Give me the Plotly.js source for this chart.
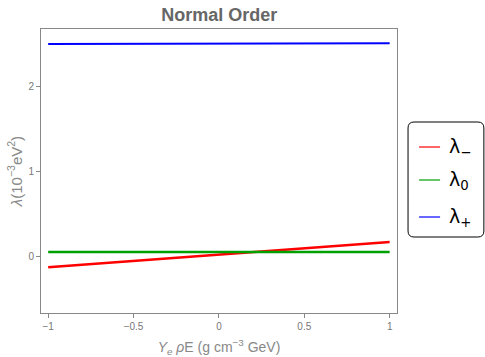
<!DOCTYPE html>
<html>
<head>
<meta charset="utf-8">
<script src="https://cdn.plot.ly/plotly-3.0.1.min.js"></script>
<style>html,body{margin:0;padding:0;background:#fff;}#chart{width:485px;height:357px;}</style>
</head>
<body>
<div id="chart"></div>
<script>
// Data
const xValues = [-1, -0.5, 0, 0.5, 1];
const lambdaMinus = [-0.124, -0.05, 0.024, 0.098, 0.172];
const lambdaZero = [0.055, 0.055, 0.055, 0.055, 0.055];
const lambdaPlus = [2.494, 2.496, 2.498, 2.500, 2.503];
const seriesNames = ['λ<sub>−</sub>', 'λ<sub>0</sub>', 'λ<sub>+</sub>'];
const seriesColors = ['#ff0000', '#00a000', '#0000ff'];
const xTicks = [-1, -0.5, 0, 0.5, 1];
const xTickLabels = ['−1', '−0.5', '0', '0.5', '1'];
const yTicks = [0, 1, 2];
const yTickLabels = ['0', '1', '2'];

const traces = [
  {x: xValues, y: lambdaMinus, name: seriesNames[0], mode: 'lines', line: {color: seriesColors[0], width: 2.5}},
  {x: xValues, y: lambdaZero, name: seriesNames[1], mode: 'lines', line: {color: seriesColors[1], width: 2.5}},
  {x: xValues, y: lambdaPlus, name: seriesNames[2], mode: 'lines', line: {color: seriesColors[2], width: 2}}
];

const axisCommon = {
  showgrid: false, zeroline: false, showline: true, mirror: true,
  linecolor: '#888', linewidth: 1,
  ticks: 'outside', ticklen: 4, tickcolor: '#888', tickwidth: 1,
  tickfont: {family: 'Liberation Sans, Arial, sans-serif', size: 10, color: '#777'}
};

// manual legend (paper coordinates)
const legendY = [0.5845, 0.4683, 0.338];
const shapes = [{
  type: 'path', xref: 'paper', yref: 'paper', layer: 'above',
  path: 'M 1.031 0.6515 L 1.031 0.2886 Q 1.031 0.2676 1.048 0.2676 L 1.227 0.2676 Q 1.244 0.2676 1.244 0.2886 L 1.244 0.6515 Q 1.244 0.6725 1.227 0.6725 L 1.048 0.6725 Q 1.031 0.6725 1.031 0.6515 Z',
  line: {color: '#000', width: 1}, fillcolor: 'rgba(0,0,0,0)'
}];
const annotations = [];
seriesNames.forEach((n, i) => {
  shapes.push({type: 'line', xref: 'paper', yref: 'paper', x0: 1.062, x1: 1.121, y0: legendY[i], y1: legendY[i],
               line: {color: seriesColors[i], width: 1.2}});
  annotations.push({xref: 'paper', yref: 'paper', x: 1.141, y: legendY[i], xanchor: 'left', yanchor: 'middle',
                    text: n, showarrow: false,
                    font: {family: 'DejaVu Sans, sans-serif', size: 19, color: '#000'}});
});

const layout = {
  width: 485, height: 357,
  margin: {l: 41, r: 88, t: 29, b: 44},
  paper_bgcolor: '#fff', plot_bgcolor: '#fff',
  title: {text: '<b>Normal Order</b>', x: 0.452, xanchor: 'center', y: 0.958, yanchor: 'middle',
          font: {family: 'Liberation Sans, Arial, sans-serif', size: 18, color: '#666'}},
  xaxis: Object.assign({}, axisCommon, {
    range: [-1.042, 1.043], tickvals: xTicks, ticktext: xTickLabels,
    title: {text: '<i>Y</i><sub><i>e</i></sub> <i>ρ</i>E (g cm<sup>−3</sup> GeV)', standoff: 12,
            font: {family: 'Liberation Sans, Arial, sans-serif', size: 14, color: '#888'}}
  }),
  yaxis: Object.assign({}, axisCommon, {
    range: [-0.662, 2.67], tickvals: yTicks, ticktext: yTickLabels,
    title: {text: '<i>λ</i>(10<sup>−3</sup>eV<sup>2</sup>)', standoff: 2,
            font: {family: 'Liberation Sans, Arial, sans-serif', size: 15, color: '#888'}}
  }),
  showlegend: false,
  shapes: shapes,
  annotations: annotations
};

Plotly.newPlot('chart', traces, layout, {displayModeBar: false, staticPlot: true});
</script>
</body>
</html>
